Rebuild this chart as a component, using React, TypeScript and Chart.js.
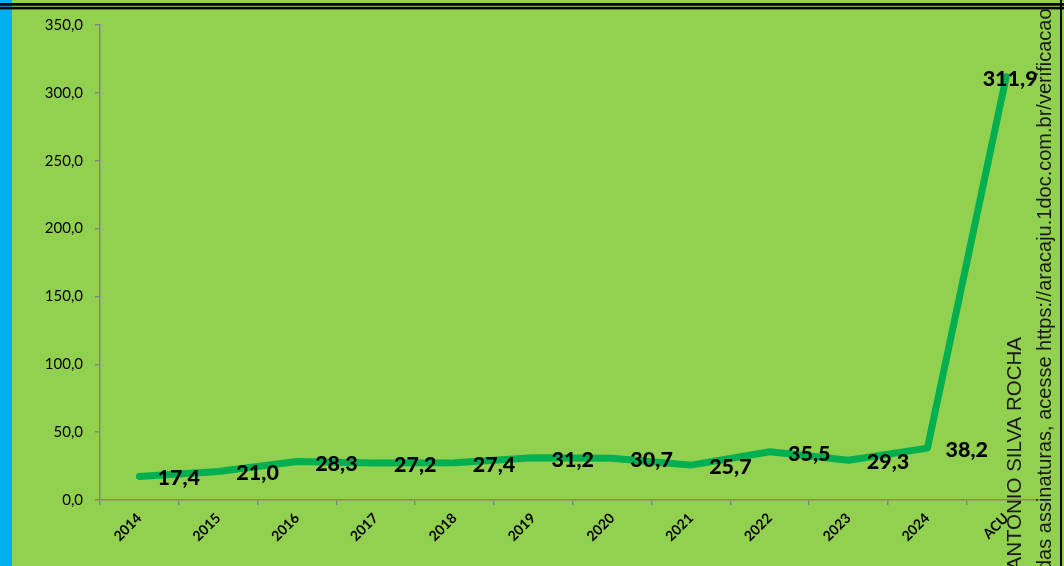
import React, { useEffect, useRef } from 'react';
import { Chart, registerables } from 'chart.js';

Chart.register(...registerables);

const categories = ['2014', '2015', '2016', '2017', '2018', '2019', '2020', '2021', '2022', '2023', '2024', 'ACU'];
const values = [17.4, 21.0, 28.3, 27.2, 27.4, 31.2, 30.7, 25.7, 35.5, 29.3, 38.2, 311.9];
const yMin = 0;
const yMax = 350;
const yStep = 50;
const watermarkName = 'ANTONIO SILVA ROCHA';
const watermarkLink = 'das assinaturas, acesse https://aracaju.1doc.com.br/verificacao';

const fmt = (v: number) => v.toFixed(1).replace('.', ',');

const decorPlugin = {
  id: 'decor',
  beforeDraw(chart: any) {
    const { ctx, width, height } = chart;
    ctx.save();
    ctx.fillStyle = '#92D050';
    ctx.fillRect(0, 0, width, height);
    ctx.fillStyle = '#00B0F0';
    ctx.fillRect(0, 0, 12, height);
    ctx.restore();
  },
  afterDatasetsDraw(chart: any) {
    const { ctx, chartArea } = chart;
    const meta = chart.getDatasetMeta(0);
    const xs = chart.scales.x;
    const half = (xs.getPixelForValue(1) - xs.getPixelForValue(0)) / 2;
    ctx.save();
    ctx.font = '900 21.5px Lato';
    ctx.fillStyle = '#000';
    ctx.textAlign = 'center';
    ctx.textBaseline = 'middle';
    meta.data.forEach((pt: any, i: number) => {
      const txt = fmt(values[i]);
      const w = ctx.measureText(txt).width;
      let x = pt.x + half;
      const maxRight = chartArea.right - 8;
      if (x + w / 2 > maxRight) x = maxRight - w / 2;
      ctx.fillText(txt, x, pt.y + 2);
    });
    ctx.restore();
  },
  afterDraw(chart: any) {
    const { ctx, width, height } = chart;
    ctx.save();
    ctx.fillStyle = '#1a1a1a';
    ctx.textBaseline = 'alphabetic';
    ctx.save();
    ctx.font = '20.5px "Liberation Sans"';
    ctx.translate(1021, 337);
    ctx.rotate(-Math.PI / 2);
    ctx.textAlign = 'right';
    ctx.fillText(watermarkName, 0, 0);
    ctx.restore();
    ctx.save();
    ctx.font = '20px "Liberation Sans"';
    ctx.translate(1051, 571);
    ctx.rotate(-Math.PI / 2);
    ctx.textAlign = 'left';
    ctx.fillText(watermarkLink, 0, 0);
    ctx.restore();
    ctx.fillStyle = '#000';
    ctx.fillRect(0, 3, width, 2.7);
    ctx.fillRect(0, 6.8, width, 2.6);
    ctx.fillRect(1060, 0, 2, height);
    ctx.restore();
  },
};

export default function App() {
  const ref = useRef<HTMLCanvasElement>(null);
  useEffect(() => {
    if (!ref.current) return;
    const chart = new Chart(ref.current, {
      type: 'line',
      data: {
        labels: categories,
        datasets: [
          {
            data: values,
            borderColor: '#00B050',
            backgroundColor: '#00B050',
            borderWidth: 7,
            pointRadius: 0,
            tension: 0,
            borderCapStyle: 'round',
            borderJoinStyle: 'round',
            clip: false,
          } as any,
        ],
      },
      options: {
        animation: false,
        responsive: false,
        devicePixelRatio: 1,
        layout: { padding: { top: 25, right: 18.4, left: 0, bottom: 0 } },
        plugins: { legend: { display: false }, tooltip: { enabled: false }, title: { display: false } },
        scales: {
          x: {
            type: 'category',
            offset: true,
            grid: { display: true, drawOnChartArea: false, drawTicks: true, tickLength: 5, color: '#868686', offset: true, lineWidth: 1.5 },
            border: { display: true, color: '#868686', width: 1.5 },
            ticks: {
              autoSkip: false,
              minRotation: 45,
              maxRotation: 45,
              padding: 5,
              color: '#000',
              font: { family: 'Lato', weight: 'bold', size: 14 },
            },
            afterFit: (s: any) => {
              s.height = 66;
            },
          },
          y: {
            min: yMin,
            max: yMax,
            grid: { drawOnChartArea: false, drawTicks: true, tickLength: 5, color: '#868686', lineWidth: 1.5 },
            border: { display: true, color: '#868686', width: 1.5 },
            ticks: {
              stepSize: yStep,
              padding: 12,
              color: '#000',
              font: { family: 'Lato', size: 15 },
              callback: (v: any) => fmt(Number(v)),
            },
            afterFit: (s: any) => {
              s.width = 100;
            },
          },
        },
      } as any,
      plugins: [decorPlugin],
    });
    return () => chart.destroy();
  }, []);
  return (
    <div style={{ position: 'absolute', left: 0, top: 0, width: 1064, height: 566 }}>
      <canvas ref={ref} width={1064} height={566} style={{ display: 'block', width: 1064, height: 566 }} />
    </div>
  );
}
